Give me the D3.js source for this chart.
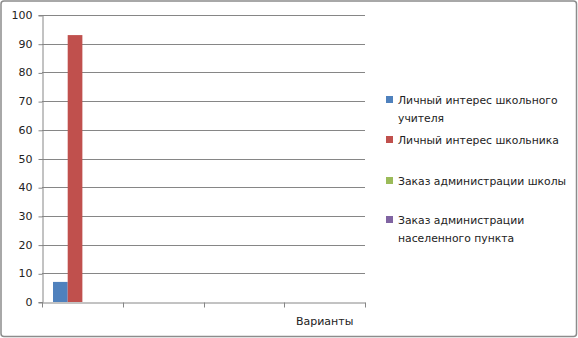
<!DOCTYPE html>
<html>
<head>
<meta charset="utf-8">
<script src="https://cdn.jsdelivr.net/npm/d3@7"></script>
<style>
  body { margin: 0; background: #fff; }
  text { font-family: "DejaVu Sans", sans-serif; font-size: 11px; fill: #222; }
  .legend text { font-size: 10.8px; }
</style>
</head>
<body>
<div id="chart"></div>
<script>
const categories = ["", "", "", "Варианты"];
const seriesNames = [
  "Личный интерес школьного учителя",
  "Личный интерес школьника",
  "Заказ администрации школы",
  "Заказ администрации населенного пункта"
];
const legendLines = [
  ["Личный интерес школьного", "учителя"],
  ["Личный интерес школьника"],
  ["Заказ администрации школы"],
  ["Заказ администрации", "населенного пункта"]
];
const colors = ["#4f81bd", "#c0504d", "#9bbb59", "#8064a2"];
// значения по категориям, для каждого ряда
const teacher = [7, null, null, null];
const student = [93, null, null, null];
const school = [null, null, null, null];
const town = [null, null, null, null];
const yTicks = [0, 10, 20, 30, 40, 50, 60, 70, 80, 90, 100];

const seriesValues = [teacher, student, school, town];
const width = 578, height = 338;
const plot = { left: 42, right: 365, top: 15, bottom: 302 };

const svg = d3.select("#chart").append("svg")
  .attr("width", width)
  .attr("height", height);

svg.append("rect")
  .attr("x", 1).attr("y", 1)
  .attr("width", width - 2.5).attr("height", height - 2.5)
  .attr("rx", 3)
  .attr("fill", "#fff")
  .attr("stroke", "#8c8c8c")
  .attr("stroke-width", 1.5);

const x = d3.scaleBand()
  .domain(d3.range(categories.length))
  .range([plot.left, plot.right])
  .paddingInner(0).paddingOuter(0);

// Excel-like gap width 150%
const barW = x.bandwidth() / 5.5;
const xs = d3.scaleBand()
  .domain(d3.range(seriesNames.length))
  .range([barW * 0.75, barW * 0.75 + barW * 4]);

const y = d3.scaleLinear().domain([0, 100]).range([plot.bottom, plot.top]);

// gridlines
svg.append("g")
  .selectAll("line")
  .data(yTicks.filter(d => d > 0))
  .enter().append("line")
  .attr("x1", plot.left).attr("x2", plot.right)
  .attr("y1", d => Math.round(y(d)) + 0.5)
  .attr("y2", d => Math.round(y(d)) + 0.5)
  .attr("stroke", "#868686");

// bars
seriesValues.forEach((vals, si) => {
  svg.append("g")
    .selectAll("rect")
    .data(vals.map((v, ci) => ({ v, ci })).filter(d => d.v != null))
    .enter().append("rect")
    .attr("x", d => x(d.ci) + xs(si))
    .attr("y", d => y(d.v))
    .attr("width", xs.bandwidth())
    .attr("height", d => plot.bottom - y(d.v))
    .attr("fill", colors[si]);
});

// y axis
const yAxis = svg.append("g")
  .attr("transform", `translate(${plot.left + 0.5},0)`)
  .call(d3.axisLeft(y).tickValues(yTicks).tickSize(4).tickPadding(6));
yAxis.select(".domain").attr("stroke", "#868686");
yAxis.selectAll(".tick line").attr("stroke", "#868686")
  .attr("transform", "translate(0,0.5)");
yAxis.selectAll(".tick text").style("font-size", "11px").attr("fill", "#222");

// x axis
const xAxis = svg.append("g")
  .attr("transform", `translate(0,${plot.bottom + 0.5})`)
  .call(d3.axisBottom(x).tickSize(0).tickFormat(""));
xAxis.select(".domain").attr("stroke", "#868686");
xAxis.append("g")
  .selectAll("line")
  .data(d3.range(categories.length + 1))
  .enter().append("line")
  .attr("x1", i => Math.round(plot.left + i * x.bandwidth()) + 0.5)
  .attr("x2", i => Math.round(plot.left + i * x.bandwidth()) + 0.5)
  .attr("y1", 0).attr("y2", 5)
  .attr("stroke", "#868686");
xAxis.append("g")
  .selectAll("text")
  .data(categories)
  .enter().append("text")
  .attr("x", (d, i) => x(i) + x.bandwidth() / 2)
  .attr("y", 22)
  .attr("text-anchor", "middle")
  .text(d => d);

// legend
const legendY = [100, 140, 181, 220];
const legend = svg.append("g").attr("class", "legend");
legendLines.forEach((lines, i) => {
  const g = legend.append("g").attr("transform", `translate(386,${legendY[i]})`);
  g.append("rect")
    .attr("x", 0).attr("y", -4)
    .attr("width", 7).attr("height", 7)
    .attr("fill", colors[i]);
  lines.forEach((t, j) => {
    g.append("text")
      .attr("x", 12)
      .attr("y", j * 18 + 4)
      .text(t);
  });
});
</script>
</body>
</html>
